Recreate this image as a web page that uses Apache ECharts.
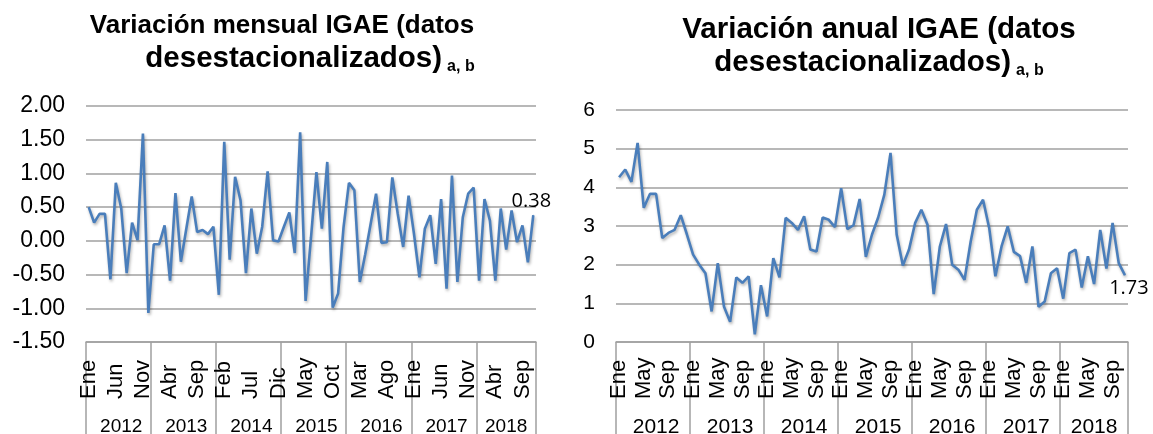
<!DOCTYPE html>
<html>
<head>
<meta charset="utf-8">
<script src="https://cdn.jsdelivr.net/npm/echarts@6/dist/echarts.min.js"></script>
<style>
  html, body { margin: 0; padding: 0; background: #fff; }
  #chart { width: 1153px; height: 434px; }
</style>
</head>
<body>
<div id="chart"></div>
<script>
// meses Ene 2012 - Nov 2018
const monthNames = ["Ene", "Feb", "Mar", "Abr", "May", "Jun", "Jul", "Ago", "Sep", "Oct", "Nov", "Dic"];
const years = ["2012", "2013", "2014", "2015", "2016", "2017", "2018"];
const monthCount = 83;
// indice donde va la etiqueta del año (centro de cada año)
const yearLabelIdx = [6, 18, 30, 42, 54, 66, 77];

// variacion mensual (%)
const mensual = [
  0.50, 0.27, 0.40, 0.40, -0.57, 0.86, 0.48, -0.48, 0.27, 0.01, 1.59, -1.07,
  -0.05, -0.05, 0.23, -0.59, 0.71, -0.31, 0.18, 0.66, 0.13, 0.16, 0.10, 0.21,
  -0.80, 1.47, -0.28, 0.95, 0.60, -0.48, 0.48, -0.19, 0.21, 1.03, 0.01, -0.01,
  0.21, 0.42, -0.18, 1.61, -0.89, 0.05, 1.02, 0.18, 1.17, -0.99, -0.78, 0.20,
  0.86, 0.75, -0.61, -0.20, 0.25, 0.70, -0.03, -0.02, 0.94, 0.40, -0.09, 0.67,
  0.10, -0.54, 0.18, 0.38, -0.34, 0.62, -0.71, 0.97, -0.61, 0.35, 0.70, 0.79,
  -0.59, 0.62, 0.30, -0.59, 0.48, -0.13, 0.45, -0.02, 0.23, -0.32, 0.38
];

// variacion anual (%)
const anual = [
  4.26, 4.46, 4.14, 5.15, 3.47, 3.83, 3.83, 2.69, 2.82, 2.90, 3.28, 2.78,
  2.26, 2.00, 1.78, 0.79, 2.04, 0.92, 0.52, 1.67, 1.53, 1.70, 0.20, 1.47,
  0.66, 2.17, 1.67, 3.21, 3.08, 2.90, 3.25, 2.39, 2.34, 3.22, 3.16, 2.97,
  3.98, 2.92, 3.02, 3.70, 2.20, 2.78, 3.22, 3.81, 4.89, 2.78, 1.98, 2.39,
  3.08, 3.42, 3.03, 1.24, 2.47, 3.05, 2.00, 1.87, 1.61, 2.60, 3.42, 3.68,
  2.95, 1.70, 2.47, 2.99, 2.33, 2.22, 1.53, 2.47, 0.91, 1.05, 1.78, 1.91,
  1.12, 2.30, 2.39, 1.41, 2.22, 1.50, 2.90, 1.90, 3.08, 2.04, 1.73
];

const mesCats = [];
const yearCats = [];
for (let i = 0; i < monthCount; i++) {
  mesCats.push(monthNames[i % 12]);
  yearCats.push(years[Math.floor(i / 12)]);
}

const FONT = "Liberation Sans, Arial, sans-serif";
const GRAY = "#a0a0a0";
const BLUE = "#4a7ebb";

function monthAxis(grid, every, size) {
  return {
    type: "category",
    gridIndex: grid,
    data: mesCats,
    position: "bottom",
    axisLine: { onZero: false, lineStyle: { color: GRAY, width: 1.5 } },
    axisTick: {
      show: true,
      interval: (idx) => idx % 12 === 0, // separador de años
      length: 92,
      lineStyle: { color: GRAY, width: 1.5 },
    },
    axisLabel: {
      interval: every - 1,
      rotate: 90,
      align: "left",
      verticalAlign: "middle",
      margin: 57,
      fontSize: size,
      fontFamily: FONT,
      color: "#000",
    },
  };
}

function yearAxis(grid, size) {
  return {
    type: "category",
    gridIndex: grid,
    data: yearCats,
    position: "bottom",
    axisLine: { show: false, onZero: false },
    axisTick: { show: false },
    axisLabel: {
      interval: (idx) => yearLabelIdx.includes(idx),
      margin: 85,
      verticalAlign: "middle",
      fontSize: size,
      fontFamily: FONT,
      color: "#000",
    },
  };
}

function lastLabel(values, pos, offset) {
  return values.map((v, i) => {
    if (i !== values.length - 1) return v;
    return {
      value: v,
      symbol: "circle",
      symbolSize: 1,
      label: {
        show: true,
        position: pos,
        distance: 3,
        offset: offset,
        formatter: (p) => p.value.toFixed(2),
        fontSize: 20,
        fontFamily: "Open Sans, sans-serif",
        color: "#000",
      },
    };
  });
}

function titleRich(size, lh) {
  return {
    m: { fontSize: size, fontWeight: "bold", fontFamily: FONT, lineHeight: lh, color: "#000" },
    s: { fontSize: 16, fontWeight: "bold", fontFamily: FONT, lineHeight: 14, verticalAlign: "bottom", color: "#000" },
  };
}

function lineSeries(xi, yi, data) {
  return {
    type: "line",
    xAxisIndex: xi,
    yAxisIndex: yi,
    data: data,
    symbol: "none",
    showSymbol: true,
    showAllSymbol: true,
    itemStyle: { color: BLUE },
    lineStyle: {
      color: BLUE,
      width: 2.6,
      shadowColor: "rgba(0,0,0,0.3)",
      shadowBlur: 3,
      shadowOffsetX: 1,
      shadowOffsetY: 2,
    },
  };
}

const chart = echarts.init(document.getElementById("chart"));
const option = {
  animation: false,
  backgroundColor: "#fff",
  title: [
    {
      text: "{m|Variación mensual IGAE (datos}",
      left: 282,
      top: 9,
      padding: 0,
      textAlign: "center",
      textStyle: { rich: titleRich(26, 33) },
    },
    {
      text: "{m|desestacionalizados)} {s|a, b}",
      left: 310,
      top: 42,
      padding: 0,
      textAlign: "center",
      textStyle: { rich: titleRich(29.5, 33) },
    },
    {
      text: "{m|Variación anual IGAE (datos}\n{m|desestacionalizados)} {s|a, b}",
      left: 879,
      top: 13,
      padding: 0,
      textAlign: "center",
      textStyle: { rich: titleRich(29.5, 33) },
    },
  ],
  grid: [
    { left: 86, right: 617, top: 106, bottom: 92, outerBoundsMode: "none" },
    { left: 616, right: 25, top: 110, bottom: 92, outerBoundsMode: "none" },
  ],
  xAxis: [monthAxis(0, 5, 22), yearAxis(0, 19), monthAxis(1, 4, 22), yearAxis(1, 21)],
  yAxis: [
    {
      type: "value",
      gridIndex: 0,
      min: -1.5,
      max: 2,
      interval: 0.5,
      axisLine: { show: false },
      axisTick: { show: false },
      axisLabel: {
        formatter: (v) => v.toFixed(2),
        fontSize: 23,
        margin: 21,
        fontFamily: FONT,
        color: "#000",
      },
      splitLine: { lineStyle: { color: GRAY, width: 1.5 } },
    },
    {
      type: "value",
      gridIndex: 1,
      min: 0,
      max: 6,
      interval: 1,
      axisLine: { show: false },
      axisTick: { show: false },
      axisLabel: { fontSize: 21, margin: 21, fontFamily: FONT, color: "#000" },
      splitLine: { lineStyle: { color: GRAY, width: 1.5 } },
    },
  ],
  series: [
    lineSeries(0, 0, lastLabel(mensual, "top", [-2, 0])),
    lineSeries(2, 1, lastLabel(anual, "bottom", [4, 0])),
  ],
};
chart.setOption(option);
</script>
</body>
</html>
